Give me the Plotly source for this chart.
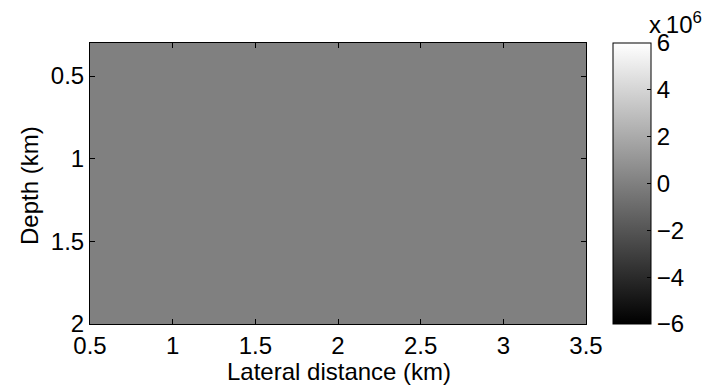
import plotly.graph_objects as go

# Data
lateral_km = [0.5, 3.5]
depth_km = [0.3, 2.0]
amplitude = [[0.0, 0.0], [0.0, 0.0]]
x_ticks = [0.5, 1, 1.5, 2, 2.5, 3, 3.5]
y_ticks = [0.5, 1, 1.5, 2]
cbar_vals = [-6e6, -4e6, -2e6, 0, 2e6, 4e6, 6e6]
cbar_text = ["\u22126", "\u22124", "\u22122", "0", "2", "4", "6"]

FS = 24
font = dict(family="Liberation Sans, Arial, Helvetica, sans-serif", size=FS, color="black")

# page body has an 8px margin; work in page coordinates and shift
OFF = 8
FW, FH = 710 - OFF, 387 - OFF
L, R, T, B = 90 - OFF, 586 - OFF, 43 - OFF, 324 - OFF
W = R - L
H = B - T


def px(xp):
    return (xp - OFF - L) / W


def py(yp):
    return (B - (yp - OFF)) / H


fig = go.Figure(go.Heatmap(
    x=lateral_km, y=depth_km, z=amplitude,
    zmin=-6e6, zmax=6e6,
    colorscale=[[0, "black"], [1, "white"]],
    showscale=True,
    colorbar=dict(
        x=px(613), xanchor="left", xpad=0,
        y=0.5, yanchor="middle", len=1, lenmode="fraction", ypad=0,
        thickness=38, thicknessmode="pixels",
        outlinewidth=1, outlinecolor="black",
        tickvals=cbar_vals, ticktext=cbar_text,
        ticks="inside", ticklen=4, tickcolor="black",
        tickfont=font,
    ),
))

axis_common = dict(
    showline=True, linecolor="black", linewidth=1, mirror="ticks",
    ticks="inside", ticklen=5, tickcolor="black",
    showgrid=False, zeroline=False, tickfont=font, automargin=False,
)

fig.update_layout(
    width=FW, height=FH,
    margin=dict(l=L, r=FW - R, t=T, b=FH - B, autoexpand=False),
    paper_bgcolor="white", plot_bgcolor="white",
    font=font,
    xaxis=dict(range=[0.5, 3.5], tickvals=x_ticks, **axis_common),
    yaxis=dict(range=[2.0, 0.3], tickvals=y_ticks, **axis_common),
    annotations=[
        dict(text="Lateral distance (km)", xref="paper", yref="paper",
             x=px(338.5), y=py(371), xanchor="center", yanchor="middle",
             showarrow=False, font=font),
        dict(text="Depth (km)", xref="paper", yref="paper", textangle=-90,
             x=px(29), y=py(186), xanchor="center", yanchor="middle",
             showarrow=False, font=font),
        dict(text="x\u200910<sup>6</sup>", xref="paper", yref="paper",
             x=px(647), y=py(40), xanchor="left", yanchor="bottom",
             showarrow=False, font=font),
    ],
)

fig.write_html("out.html")
